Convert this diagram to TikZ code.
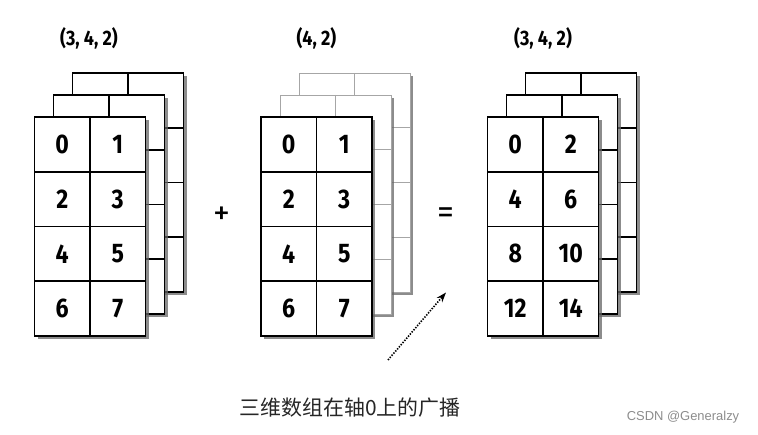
\documentclass[tikz,border=0pt]{standalone}
\usepackage{fontspec}
\setmainfont{Fira Sans}
\newfontfamily\numfont{Fira Sans}[FakeStretch=0.86]
\newfontfamily\cjk{Noto Sans CJK SC}
\newfontfamily\wmfont{Liberation Sans}
\usetikzlibrary{arrows.meta, shadows, positioning}

\begin{document}
\begin{tikzpicture}[x=1bp,y=-1bp,>={Stealth[length=10bp,width=7bp]},
  cell/.style={draw,line width=1.6bp,minimum width=55.5bp,minimum height=54.75bp,
    inner sep=0pt,font=\numfont\fontsize{27}{27}\selectfont\bfseries},
  layer/.style={draw,line width=1.6bp,fill=white,
    drop shadow={shadow xshift=3bp,shadow yshift=-3bp,fill=black!60,opacity=0.75}},
  dimlabel/.style={font=\numfont\fontsize{21}{21}\selectfont\bfseries},
  op/.style={font=\fontsize{34}{34}\selectfont}]

  \useasboundingbox (0,0) rectangle (758,435);

  % stacked layers, back to front
  \foreach \sx/\lc/\lw in {34.5/black/1.6bp, 261/black!35/0.9bp, 487.5/black/1.6bp} {
    \foreach \o in {2,1} {
      \draw[layer, draw=\lc, line width=\lw] (\sx+19*\o, 117-22*\o) rectangle ++(111,219);
      \foreach \k in {1,2,3}
        \draw[draw=\lc, line width=\lw] (\sx+19*\o, 117-22*\o+54.75*\k) -- ++(111,0);
      \draw[draw=\lc, line width=\lw] (\sx+19*\o+55.5, 117-22*\o) -- ++(0,219);
    }
    \draw[layer] (\sx,117) rectangle ++(111,219);
  }

  % front cells
  \foreach \sx/\nm/\f in {34.5/A/1, 261/B/1, 487.5/C/2}
    \foreach \r in {0,...,3}
      \foreach \c in {0,1} {
        \pgfmathtruncatemacro{\v}{\f*(2*\r+\c)}
        \node[cell] (\nm\r\c) at (\sx+27.75+55.5*\c, 144.375+54.75*\r) {\v};
      }

  \node[dimlabel] (shapeA) at (89,38) {(3, 4, 2)};
  \node[dimlabel] (shapeB) at (316.5,38) {(4, 2)};
  \node[dimlabel] (shapeC) at (543,38) {(3, 4, 2)};

  \node[op] (plus) at (222,216) {+};
  \node[op] (equals) at (446,216) {=};

  \coordinate (tail) at (388,360);
  \coordinate (head) at (446,292.5);
  \draw[->, line width=1.6bp, dash pattern=on 1.4bp off 1.4bp] (tail) -- (head);

  \node[font=\cjk\fontsize{21}{21}\selectfont, text=black!85] (caption) at (350,408) {三维数组在轴0上的广播};
  \node[font=\wmfont\fontsize{13}{13}\selectfont, text=black!45] (mark) at (683,417) {CSDN @Generalzy};
\end{tikzpicture}
\end{document}
